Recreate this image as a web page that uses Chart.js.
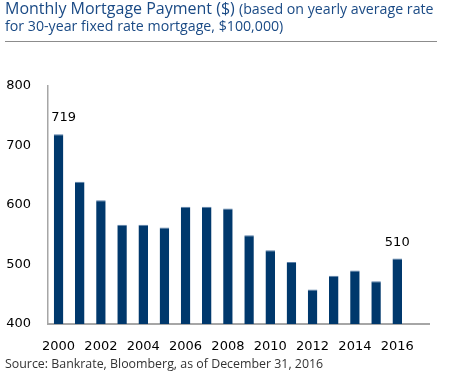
<!DOCTYPE html>
<html>
<head>
<meta charset="utf-8">
<script src="https://cdn.jsdelivr.net/npm/chart.js@4"></script>
<style>
html,body{margin:0;padding:0;background:#fff;}
#wrap{position:relative;width:450px;height:375px;overflow:hidden;}
#c{position:absolute;left:0;top:0;}
#title{position:absolute;left:5px;top:0px;width:445px;font-family:"Open Sans",sans-serif;color:#1a4a85;line-height:16px;white-space:nowrap;}
#title .big{font-size:16px;}
#title .small{font-size:14.2px;}
#rule{position:absolute;left:5px;top:41px;width:432px;height:0;border-top:1.5px solid #8c8c8c;}
#source{position:absolute;left:5px;top:355px;font-family:"Open Sans",sans-serif;font-size:12.4px;color:#333;white-space:nowrap;}
</style>
</head>
<body>
<div id="wrap">
<canvas id="c" width="450" height="375"></canvas>
<div id="title"><span class="big">Monthly Mortgage Payment ($)</span> <span class="small">(based on yearly average rate</span><br><span class="small">for 30-year fixed rate mortgage, $100,000)</span></div>
<div id="rule"></div>
<div id="source">Source: Bankrate, Bloomberg, as of December 31, 2016</div>
</div>
<script>
const years = ["2000","2001","2002","2003","2004","2005","2006","2007","2008","2009","2010","2011","2012","2013","2014","2015","2016",""];
const payments = [719,639,608,567,567,562,597,597,594,549,524,504,458,481,490,472,510,null];
const labelledYears = ["2000","2016"];
const yTicks = [400,500,600,700,800];

const valueLabels = {
  id:'valueLabels',
  afterDatasetsDraw(chart){
    const ctx = chart.ctx;
    const meta = chart.getDatasetMeta(0);
    ctx.save();
    ctx.font = '13px "DejaVu Sans"';
    ctx.fillStyle = '#000';
    ctx.textAlign = 'center';
    ctx.textBaseline = 'alphabetic';
    years.forEach((y,i)=>{
      if(labelledYears.includes(y)){
        const el = meta.data[i];
        ctx.fillText(String(payments[i]), el.x + (i===0?5:0), el.y - 13);
      }
    });
    ctx.restore();
  }
};

new Chart(document.getElementById('c'), {
  type:'bar',
  data:{labels:years, datasets:[{data:payments, backgroundColor:'#00386c', borderColor:'#5a7fa8', borderWidth:{top:1,left:0,right:0,bottom:0}, borderSkipped:'bottom', barPercentage:0.9, categoryPercentage:0.5}]},
  options:{
    responsive:false, animation:false,
    layout:{padding:{left:0,right:21,top:86,bottom:0}},
    plugins:{legend:{display:false}, tooltip:{enabled:false}},
    scales:{
      x:{
        grid:{display:false, drawTicks:false},
        border:{display:true,color:'#a6a6a6',width:2},
        ticks:{autoSkip:false,maxRotation:0,minRotation:0,padding:15,color:'#000',font:{family:'"DejaVu Sans"',size:13},
          callback:(v,i)=> (i%2===0 && years[i]) ? years[i] : ''},
        afterFit:s=>{s.height=51;}
      },
      y:{
        min:400,max:800,
        grid:{display:false, drawTicks:false},
        border:{display:true,color:'#a6a6a6',width:1.5},
        afterBuildTicks:s=>{s.ticks = yTicks.map(v=>({value:v}));},
        ticks:{padding:17,color:'#000',font:{family:'"DejaVu Sans"',size:13}},
        afterFit:s=>{s.width=48;}
      }
    }
  },
  plugins:[valueLabels]
});
</script>
</body>
</html>
